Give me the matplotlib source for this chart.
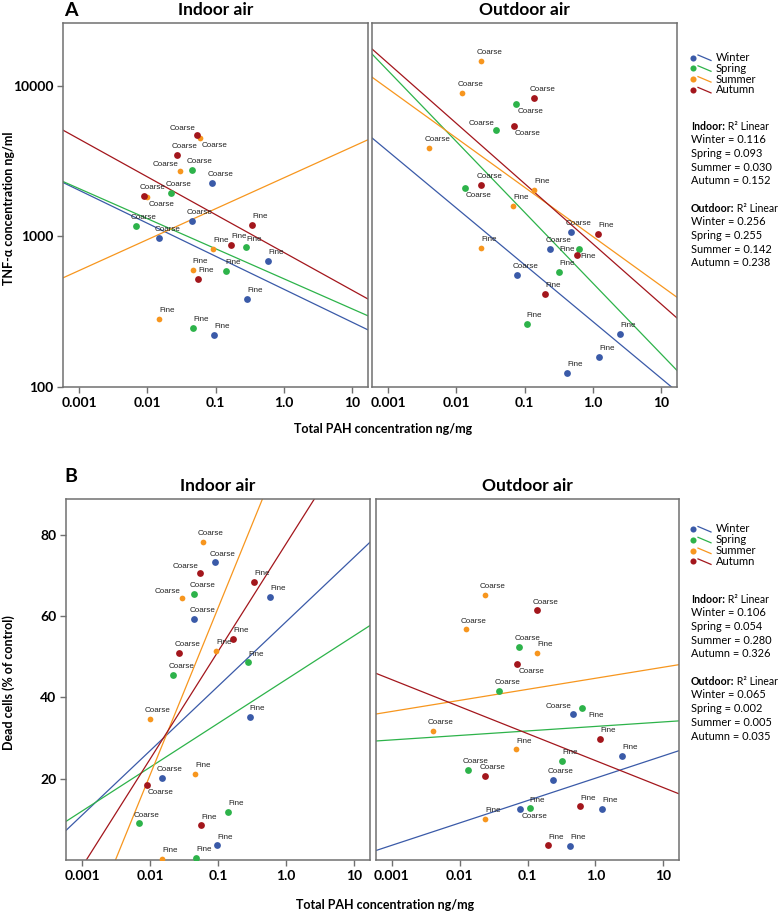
import numpy as np
import matplotlib
matplotlib.use("Agg")
import matplotlib.pyplot as plt
from matplotlib.lines import Line2D

# ---- data ----
seasons = ["Winter", "Spring", "Summer", "Autumn"]
season_colors = ["#3a5aa8", "#2db34a", "#f7961e", "#a3161c"]
size_labels = ["Coarse", "Coarse", "Coarse", "Fine", "Fine", "Fine"]

# total PAH, ng/mg (rows: Winter, Spring, Summer, Autumn; 3 coarse then 3 fine)
pah_indoor = [
    [0.089, 0.045, 0.015, 0.58, 0.29, 0.096],
    [0.045, 0.022, 0.0068, 0.28, 0.14, 0.047],
    [0.060, 0.030, 0.0099, 0.092, 0.046, 0.0148],
    [0.054, 0.027, 0.0090, 0.34, 0.168, 0.056],
]
pah_outdoor = [
    [0.474, 0.237, 0.078, 2.49, 1.245, 0.420],
    [0.0756, 0.0381, 0.0132, 0.635, 0.321, 0.107],
    [0.0233, 0.0122, 0.0040, 0.137, 0.0684, 0.0233],
    [0.139, 0.0698, 0.0233, 1.19, 0.594, 0.198],
]

# TNF-alpha, ng/ml
tnf_indoor = [
    [2265, 1274, 973, 687, 386, 221],
    [2754, 1945, 1180, 847, 590, 248],
    [4486, 2711, 1836, 826, 601, 284],
    [4700, 3474, 1866, 1186, 874, 523],
]
tnf_outdoor = [
    [1077, 829, 557, 226, 158, 124],
    [7590, 5105, 2089, 822, 578, 262],
    [14650, 8970, 3856, 2047, 1603, 835],
    [8318, 5445, 2188, 1040, 753, 417],
]

# dead cells, % of control
dead_indoor = [
    [73.2, 59.2, 20.2, 64.8, 35.2, 3.6],
    [65.5, 45.5, 9.0, 48.6, 11.9, 0.5],
    [78.3, 64.5, 34.7, 51.5, 21.2, 0.3],
    [70.6, 50.9, 18.5, 68.5, 54.3, 8.5],
]
dead_outdoor = [
    [36.0, 19.75, 12.6, 25.7, 12.5, 3.45],
    [52.4, 41.5, 22.1, 37.3, 24.4, 12.7],
    [65.2, 56.7, 31.8, 51.0, 27.2, 10.2],
    [61.4, 48.1, 20.6, 29.7, 13.2, 3.6],
]

r2_A_indoor = [0.116, 0.093, 0.030, 0.152]
r2_A_outdoor = [0.256, 0.255, 0.142, 0.238]
r2_B_indoor = [0.106, 0.054, 0.280, 0.326]
r2_B_outdoor = [0.065, 0.002, 0.005, 0.035]

x_ticks = [0.001, 0.01, 0.1, 1.0, 10]
x_tick_labels = ["0.001", "0.01", "0.1", "1.0", "10"]

# ---- styling ----
FONT = ["Lato", "DejaVu Sans"]
plt.rcParams["font.family"] = FONT
W, H = 778, 913
XLIM = (5.83e-4, 17.1)
FRAME = "#707070"

# label placement, offset in points from the dot
OFFSETS = {"d": (5.8, 6.0), "ul": (-10.6, 4.8), "br": (10.2, -5.3),
           "l": (-8.8, 0.0), "r": (8.0, -1.4)}
label_pos = {
    ("A_in", 3, 0): "ul", ("A_in", 2, 0): "br", ("A_in", 2, 1): "ul", ("A_in", 2, 2): "br",
    ("A_out", 1, 0): "br", ("A_out", 1, 1): "ul", ("A_out", 3, 1): "br",
    ("A_out", 1, 2): "br", ("A_out", 1, 3): "l", ("A_out", 3, 4): "r",
    ("B_in", 3, 0): "ul", ("B_in", 2, 1): "ul", ("B_in", 3, 2): "br",
    ("B_out", 3, 1): "br", ("B_out", 0, 0): "ul", ("B_out", 1, 3): "br", ("B_out", 0, 2): "br",
}


def add_ax(l, r, t, b):
    return fig.add_axes([l / W, 1 - b / H, (r - l) / W, (b - t) / H])


def fx(px):
    return px / W


def fy(py):
    return 1 - py / H


def draw_panel(ax, key, pah, vals, logy, ylim, show_y):
    ax.set_xscale("log")
    if logy:
        ax.set_yscale("log")
    xs = np.logspace(np.log10(XLIM[0]), np.log10(XLIM[1]), 60)
    for i, c in enumerate(season_colors):
        x = np.array(pah[i])
        y = np.array(vals[i])
        ly = np.log10(y) if logy else y
        slope, icpt = np.polyfit(np.log10(x), ly, 1)
        fit = slope * np.log10(xs) + icpt
        ax.plot(xs, 10 ** fit if logy else fit, color=c, lw=0.9, zorder=2)
        ax.scatter(x, y, s=24 if i != 2 else 17, color=c, zorder=3, linewidths=0)
        for j in range(len(x)):
            off = OFFSETS[label_pos.get((key, i, j), "d")]
            ax.annotate(size_labels[j], (x[j], y[j]), xytext=off, textcoords="offset points",
                        ha="center", va="center", fontsize=5.8, color="#222222",
                        family=["Liberation Sans", "DejaVu Sans"], zorder=4)
    ax.set_xlim(*XLIM)
    ax.set_ylim(*ylim)
    ax.minorticks_off()
    ax.set_xticks(x_ticks)
    ax.set_xticklabels(x_tick_labels)
    for s in ax.spines.values():
        s.set_color(FRAME)
        s.set_linewidth(1.1)
    ax.tick_params(axis="both", direction="out", length=4, width=1, color=FRAME,
                   labelsize=10, pad=3)
    for lab in ax.get_xticklabels() + ax.get_yticklabels():
        lab.set_fontweight("bold")
    if not show_y:
        ax.tick_params(axis="y", left=False, labelleft=False)


def draw_legend(y0, r2_in, r2_out, y_in):
    for i, (name, c) in enumerate(zip(seasons, season_colors)):
        y = y0 + i * 10.8
        fig.add_artist(Line2D([fx(692.5)], [fy(y)], marker="o", ms=4.4, color=c, mew=0))
        fig.add_artist(Line2D([fx(698), fx(711)], [fy(y - 2.5), fy(y + 3)], color=c, lw=0.9))
        fig.text(fx(715.5), fy(y), name, fontsize=8, va="center", ha="left")
    step = 13.7
    for yb, head, r2 in ((y_in, "Indoor:", r2_in), (y_in + 6 * step, "Outdoor:", r2_out)):
        t = fig.text(fx(691), fy(yb), head, fontsize=7.6, fontweight="bold", va="center", ha="left")
        plt.annotate(" R\u00b2 Linear", xy=(1, 0.5), xycoords=t, va="center", ha="left",
                     fontsize=7.6, annotation_clip=False)
        for i, name in enumerate(seasons):
            fig.text(fx(691), fy(yb + (i + 1) * step), "%s = %.3f" % (name, r2[i]),
                     fontsize=7.9, va="center", ha="left")


fig = plt.figure(figsize=(W / 100, H / 100), dpi=100)

# ---- panel A: TNF-alpha ----
axA1 = add_ax(63, 368, 23, 387)
axA2 = add_ax(372, 677, 23, 387)
draw_panel(axA1, "A_in", pah_indoor, tnf_indoor, True, (100, 26200), True)
draw_panel(axA2, "A_out", pah_outdoor, tnf_outdoor, True, (100, 26200), False)
axA1.set_yticks([100, 1000, 10000])
axA1.set_yticklabels(["100", "1000", "10000"])
for lab in axA1.get_yticklabels():
    lab.set_fontweight("bold")
axA1.set_title("Indoor air", fontsize=12.5, fontweight="bold", pad=6)
axA2.set_title("Outdoor air", fontsize=12.5, fontweight="bold", pad=6)
fig.text(fx(64), fy(11), "A", fontsize=14, fontweight="bold", va="center", ha="left")
fig.text(fx(9), fy(208), "TNF-\u03b1 concentration ng/ml", fontsize=9, fontweight="bold",
         rotation=90, ha="center", va="center")
fig.text(fx(383), fy(429), "Total PAH concentration ng/mg", fontsize=9, fontweight="bold",
         ha="center", va="center")
draw_legend(57.5, r2_A_indoor, r2_A_outdoor, 126)

# ---- panel B: cell death ----
axB1 = add_ax(66, 370, 499, 860)
axB2 = add_ax(376, 679, 499, 860)
draw_panel(axB1, "B_in", pah_indoor, dead_indoor, False, (0, 88.8), True)
draw_panel(axB2, "B_out", pah_outdoor, dead_outdoor, False, (0, 88.8), False)
axB1.set_yticks([20, 40, 60, 80])
axB1.set_yticklabels(["20", "40", "60", "80"])
for lab in axB1.get_yticklabels():
    lab.set_fontweight("bold")
axB1.set_title("Indoor air", fontsize=12.5, fontweight="bold", pad=6)
axB2.set_title("Outdoor air", fontsize=12.5, fontweight="bold", pad=6)
fig.text(fx(64), fy(476), "B", fontsize=14, fontweight="bold", va="center", ha="left")
fig.text(fx(9), fy(683), "Dead cells (% of control)", fontsize=9, fontweight="bold",
         rotation=90, ha="center", va="center")
fig.text(fx(385), fy(905), "Total PAH concentration ng/mg", fontsize=9, fontweight="bold",
         ha="center", va="center")
draw_legend(529, r2_B_indoor, r2_B_outdoor, 599)

fig.savefig("out.png", dpi=100)
